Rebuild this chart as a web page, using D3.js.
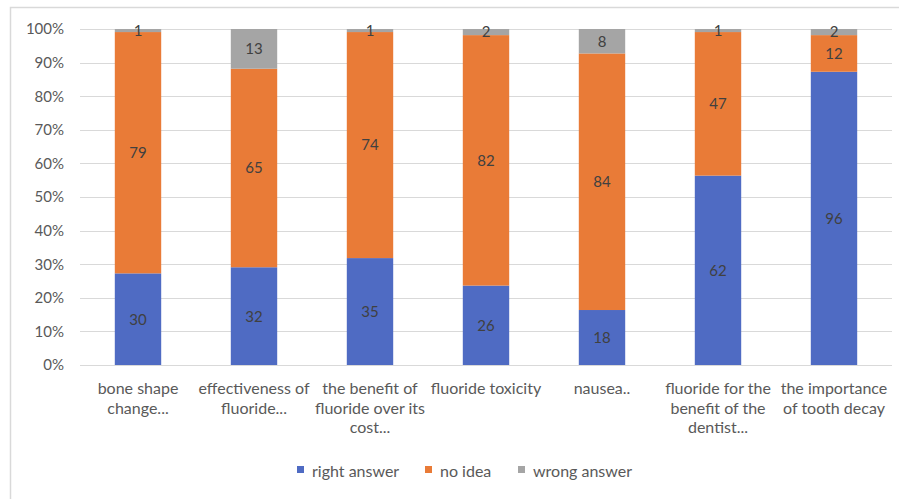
<!DOCTYPE html>
<html>
<head>
<meta charset="utf-8">
<script src="https://cdn.jsdelivr.net/npm/d3@7"></script>
<style>
  html, body { margin: 0; padding: 0; background: #fff; }
  svg { display: block; font-family: Lato, "Open Sans", sans-serif; }
</style>
</head>
<body>
<svg id="chart" width="899" height="499"></svg>
<script>
const categories = [
  "bone shape change...",
  "effectiveness of fluoride...",
  "the benefit of fluoride over its cost...",
  "fluoride toxicity",
  "nausea..",
  "fluoride for the benefit of the dentist...",
  "the importance of tooth decay"
];
const categoryLines = [
  ["bone shape", "change..."],
  ["effectiveness of", "fluoride..."],
  ["the benefit of", "fluoride over its", "cost..."],
  ["fluoride toxicity"],
  ["nausea.."],
  ["fluoride for the", "benefit of the", "dentist..."],
  ["the importance", "of tooth decay"]
];
const seriesNames = ["right answer", "no idea", "wrong answer"];
const rightAnswer = [30, 32, 35, 26, 18, 62, 96];
const noIdea = [79, 65, 74, 82, 84, 47, 12];
const wrongAnswer = [1, 13, 1, 2, 8, 1, 2];
const seriesColors = ["#4f6bc3", "#e97b37", "#a5a5a5"];
const yTicks = [0, 0.1, 0.2, 0.3, 0.4, 0.5, 0.6, 0.7, 0.8, 0.9, 1.0];

const svg = d3.select("#chart");
const W = 899, H = 499;
const FONT = 'Lato, "Open Sans", sans-serif';

// outer frame
svg.append("rect").attr("x", 10.5).attr("y", 7.5).attr("width", W + 10).attr("height", H + 10)
  .attr("fill", "none").attr("stroke", "#d9d9d9").attr("stroke-width", 1.5);

const plot = { left: 80, right: 892, top: 29, bottom: 365 };

const rows = categories.map((c, i) => ({
  cat: c, "right answer": rightAnswer[i], "no idea": noIdea[i], "wrong answer": wrongAnswer[i]
}));
const stacked = d3.stack().keys(seriesNames).offset(d3.stackOffsetExpand)(rows);

const x = d3.scaleBand().domain(categories).range([plot.left, plot.right]).paddingInner(0.6).paddingOuter(0.3);
const y = d3.scaleLinear().domain([0, 1]).range([plot.bottom, plot.top]);

// gridlines
svg.append("g").selectAll("line").data(yTicks).join("line")
  .attr("x1", plot.left).attr("x2", plot.right)
  .attr("y1", d => Math.round(y(d)) + 0.5).attr("y2", d => Math.round(y(d)) + 0.5)
  .attr("stroke", "#d9d9d9").attr("stroke-width", 1);

// y axis labels
const yAxis = d3.axisLeft(y).tickValues(yTicks).tickFormat(d3.format(".0%")).tickSize(0).tickPadding(0);
const yg = svg.append("g").attr("transform", `translate(${plot.left - 16},0)`).call(yAxis);
yg.select(".domain").remove();
yg.selectAll("text").attr("fill", "#595959").style("font-size", "15px")
  .style("font-family", FONT);

// bars
const layers = svg.append("g").selectAll("g").data(stacked).join("g")
  .attr("fill", (d, i) => seriesColors[i]);
layers.selectAll("rect").data(d => d).join("rect")
  .attr("x", d => x(d.data.cat))
  .attr("width", x.bandwidth())
  .attr("y", d => y(d[1]))
  .attr("height", d => y(d[0]) - y(d[1]));

// data labels
const lbl = svg.append("g");
stacked.forEach((layer) => {
  const key = layer.key;
  layer.forEach(d => {
    lbl.append("text")
      .attr("x", x(d.data.cat) + x.bandwidth() / 2)
      .attr("y", (y(d[0]) + y(d[1])) / 2)
      .attr("dy", "0.36em")
      .attr("text-anchor", "middle")
      .attr("fill", "#404040")
      .style("font-size", "15px")
      .text(d.data[key]);
  });
});

// x category labels
const xg = svg.append("g");
categories.forEach((c, i) => {
  const t = xg.append("text")
    .attr("x", x(c) + x.bandwidth() / 2)
    .attr("y", 394)
    .attr("text-anchor", "middle")
    .attr("fill", "#595959")
    .style("font-size", "16px");
  categoryLines[i].forEach((ln, j) => {
    t.append("tspan").attr("x", x(c) + x.bandwidth() / 2).attr("y", 394 + j * 19.5).text(ln);
  });
});

// legend
const legendX = [297, 425, 518];
const lg = svg.append("g");
seriesNames.forEach((s, i) => {
  lg.append("rect").attr("x", legendX[i]).attr("y", 466).attr("width", 7).attr("height", 7)
    .attr("fill", seriesColors[i]);
  lg.append("text").attr("x", legendX[i] + 15).attr("y", 477)
    .attr("fill", "#595959").style("font-size", "16px").text(s);
});
</script>
</body>
</html>
